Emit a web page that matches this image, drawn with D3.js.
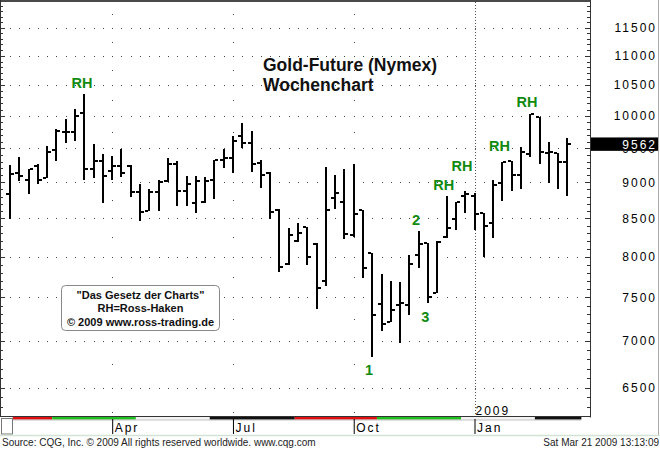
<!DOCTYPE html>
<html><head><meta charset="utf-8">
<script src="https://cdn.jsdelivr.net/npm/d3@7"></script>
<style>
body{margin:0;background:#fff;}
svg{display:block;font-family:"Liberation Sans",Arial,sans-serif;}
</style></head><body>
<svg id="c" width="660" height="449"></svg>
<script>
// ---- data (weekly OHLC, Gold future, cents/oz x10) ----
const opens  = [8829,9128,9038,9234,9064,9481,9750,9753,10043,9197, 9307,9161,9238,9238,8865,8598,8857,9017,9273,8875, 8712,8726,9031,9322,9352,9679,9572,9285,9132,8612, 7902,8199,8387,8156,7699,8773,8718,8284,8621,8041, 7420,7215,7408,7408,8019,8177,7547,8247,8490,8805, 8805,8567,8440,8993,9307,9103,9407,9984,9430,9422, 9297];
const highs  = [9248,9371,9190,9270,9531,9787,9948,10102,10345,9558, 9407,9386,9486,9248,8970,8903,9031,9356,9307,9089, 9089,9074,9322,9490,9683,9890,9760,9332,9147,8626, 8366,8440,8387,8177,9215,9103,9190,9260,8621,8041, 7781,7695,7687,8019,8334,8177,8199,8805,8726,8879, 8847,8575,9031,9297,9307,9521,10027,9984,9596,9430, 9663];
const lows   = [8490,9026,8840,8974,9056,9307,9572,9607,9031,9056, 8712,9031,9070,8787,8463,8598,8598,9007,8671,8671, 8567,8715,8759,9200,9128,9497,9151,8925,8499,7802, 7893,8190,7893,7358,7638,8626,8221,8247,7736,6826, 7113,7208,6979,7292,7859,7428,7547,8234,8343,8575, 8352,7998,8234,8736,8879,8903,9371,9263,8993,8903, 8809];
const closes = [9113,9093,9190,9031,9448,9765,9750,9995,9197,9307, 9093,9238,9128,8865,8589,8857,9007,9263,8875,8970, 9017,9024,9322,9352,9615,9572,9273,9103,8589,7871, 8277,8308,7998,7607,8621,8843,8290,8557,7859,7292, 7189,7349,7428,7914,8160,7506,8190,8366,8718,8829, 8561,8396,8960,9297,9103,9445,10027,9445,9445,9297, 9562];
const priceTicks = [6500,7000,7500,8000,8500,9000,9500,10000,10500,11000,11500];
const monthLabels = ["Apr","Jul","Oct","Jan"];
const monthBars = [11,24,37,50];
const yearLabel = "2009";
const yearBar = 50;
const annLabels = ["RH","RH","RH","RH","RH","1","2","3"];
const annBars   = [7.75,55.65,52.7,48.65,46.7,38.65,43.7,44.7];
const annPrices = [10449,10139,9456,9161,8889,6630,8410,7214];
const stripBounds = [0.3,4.55,13.55,21.5,30.65,39.5,48.55,56.5,61.5];
const stripColors = ["#e01010","#20c020","#f2f2f2","#111111","#e01010","#20c020","#f2f2f2","#111111"];
const titleLines = ["Gold-Future (Nymex)","Wochenchart"];
const noteLines = ["\"Das Gesetz der Charts\"","RH=Ross-Haken","\u00A9 2009 www.ross-trading.de"];
const sourceText = "Source: CQG, Inc. \u00A9 2009 All rights reserved worldwide. www.cqg.com";
const dateText = "Sat Mar 21 2009 13:13:09";

const n = closes.length;
const svg = d3.select("#c");
const x = d3.scaleLinear().domain([0, 60]).range([10, 567.4]);
const y = d3.scaleLog().domain([6500, 11500]).range([387.7, 27.7]);
const plotR = 590, plotB = 416.5;
const bars = d3.range(n).map(i => ({i, o:opens[i], h:highs[i], l:lows[i], c:closes[i]}));

// grid dots (horizontal)
const gGrid = svg.append("g");
priceTicks.forEach(v => {
  gGrid.selectAll(null).data(d3.range(0, 63)).join("rect")
    .attr("x", d => Math.round(x(d))).attr("y", Math.round(y(v)))
    .attr("width", 1).attr("height", 1).attr("fill", "#444");
});
// vertical dotted month lines
monthBars.slice(0,3).forEach(b => {
  gGrid.selectAll(null).data(d3.range(6250, 11751, 250)).join("rect")
    .attr("x", Math.round(x(b))).attr("y", d => Math.round(y(d)))
    .attr("width", 1).attr("height", 1).attr("fill", "#444");
});
// year line
gGrid.append("line").attr("x1", Math.round(x(yearBar))+0.5).attr("x2", Math.round(x(yearBar))+0.5)
  .attr("y1", 2).attr("y2", plotB).attr("stroke", "#555").attr("stroke-dasharray", "1,2");

// frame
svg.append("rect").attr("x",0).attr("y",0).attr("width",plotR).attr("height",2).attr("fill","#4a4a4a");
svg.append("line").attr("x1",0.5).attr("x2",0.5).attr("y1",0).attr("y2",plotB).attr("stroke","#333");
svg.append("line").attr("x1",plotR+0.5).attr("x2",plotR+0.5).attr("y1",0).attr("y2",plotB+1).attr("stroke","#333");
svg.append("line").attr("x1",658.5).attr("x2",658.5).attr("y1",0).attr("y2",435).attr("stroke","#aaa");
svg.append("line").attr("x1",0).attr("x2",plotR).attr("y1",plotB).attr("y2",plotB).attr("stroke","#333");
const minor = d3.range(6300, 12000, 100);
svg.append("g").selectAll("line").data(minor).join("line")
  .attr("x1", d => d % 500 === 0 ? plotR-5 : plotR-3).attr("x2", plotR)
  .attr("y1", d => Math.round(y(d))+0.5).attr("y2", d => Math.round(y(d))+0.5)
  .attr("stroke", "#333");
svg.append("g").selectAll("line").data(minor).join("line")
  .attr("x1", 1).attr("x2", d => d % 500 === 0 ? 5 : 3)
  .attr("y1", d => Math.round(y(d))+0.5).attr("y2", d => Math.round(y(d))+0.5)
  .attr("stroke", "#333");

// OHLC bars
const gb = svg.append("g").attr("fill", "#000");
const bg = gb.selectAll("g").data(bars).join("g");
bg.append("rect").attr("x", d => Math.round(x(d.i))-1).attr("width", 2)
  .attr("y", d => Math.round(y(d.h))).attr("height", d => Math.max(1, Math.round(y(d.l)) - Math.round(y(d.h))));
bg.append("rect").attr("x", d => Math.round(x(d.i))-4).attr("width", 3)
  .attr("y", d => Math.round(y(d.o))-1).attr("height", 2);
bg.append("rect").attr("x", d => Math.round(x(d.i))+1).attr("width", 3)
  .attr("y", d => Math.round(y(d.c))-1).attr("height", 2);

// price axis labels
svg.append("g").selectAll("text").data(priceTicks).join("text")
  .attr("x", 657).attr("y", d => y(d) + 4.3).attr("text-anchor", "end")
  .attr("font-size", 12).attr("letter-spacing", 2).attr("fill", "#000").text(d => d);
// last price box
const last = closes[n-1];
svg.append("rect").attr("x", plotR+1).attr("y", y(last)-6.7).attr("width", 658-plotR-1).attr("height", 13.4).attr("fill", "#000");
svg.append("text").attr("x", 657).attr("y", y(last)+4.5).attr("text-anchor","end")
  .attr("font-size", 12).attr("letter-spacing", 2).attr("fill", "#fff").text(last);

// bottom strip
const strip = svg.append("g");
stripColors.forEach((c, k) => {
  strip.append("rect").attr("x", x(stripBounds[k])).attr("y", plotB+0.5)
    .attr("width", x(stripBounds[k+1]) - x(stripBounds[k])).attr("height", 2.5)
    .attr("fill", c);
});
strip.append("line").attr("x1", x(stripBounds[0])).attr("x2", x(stripBounds[stripBounds.length-1]))
  .attr("y1", plotB+3.5).attr("y2", plotB+3.5).attr("stroke", "#999").attr("stroke-width", 0.6);
svg.append("rect").attr("x", 1.5).attr("y", 418.5).attr("width", 11).attr("height", 15.5)
  .attr("fill", "#fff").attr("stroke", "#777");

// month axis
const xAxis = d3.axisBottom(x).tickValues(monthBars).tickFormat((d,i) => monthLabels[i]).tickSize(15);
const ax = svg.append("g").attr("transform", "translate(0,419)").call(xAxis);
ax.select(".domain").remove();
ax.selectAll(".tick line").attr("stroke", "#000");
ax.selectAll(".tick text").attr("x", 2).attr("y", 12.5).attr("dy", 0).attr("text-anchor", "start")
  .attr("font-size", 12).attr("letter-spacing", 2).attr("fill", "#000")
  .attr("font-family", "'Liberation Sans',Arial,sans-serif");
svg.append("text").attr("x", x(yearBar)+1).attr("y", 415).attr("font-size", 12).attr("letter-spacing", 2)
  .attr("fill", "#000").text(yearLabel);

// footer
svg.append("line").attr("x1", 0).attr("x2", 660).attr("y1", 435.5).attr("y2", 435.5).attr("stroke", "#d4e4d4").attr("stroke-width", 1.5);
svg.append("text").attr("x", 2).attr("y", 446).attr("font-size", 10).attr("fill", "#222").text(sourceText);
svg.append("text").attr("x", 659).attr("y", 446).attr("font-size", 10).attr("text-anchor", "end").attr("fill", "#222").text(dateText);

// title
svg.append("g").selectAll("text").data(titleLines).join("text")
  .attr("x", 263).attr("y", (d,i) => 71 + i*20).attr("font-size", 17.5).attr("font-weight", "bold")
  .attr("fill", "#111").text(d => d);

// note box
svg.append("rect").attr("x", 61.5).attr("y", 285.5).attr("width", 158).attr("height", 45).attr("rx", 4)
  .attr("fill", "#fff").attr("stroke", "#888");
svg.append("g").selectAll("text").data(noteLines).join("text")
  .attr("x", 140.5).attr("y", (d,i) => 299 + i*13.35).attr("text-anchor", "middle")
  .attr("font-size", 11).attr("font-weight", "bold").attr("fill", "#111").text(d => d);

// annotations
svg.append("g").selectAll("text").data(annLabels).join("text")
  .attr("x", (d,i) => x(annBars[i])).attr("y", (d,i) => y(annPrices[i]))
  .attr("text-anchor", "middle").attr("font-size", 14.5).attr("font-weight", "bold")
  .attr("fill", "#108a10").text(d => d);
</script>
</body></html>
